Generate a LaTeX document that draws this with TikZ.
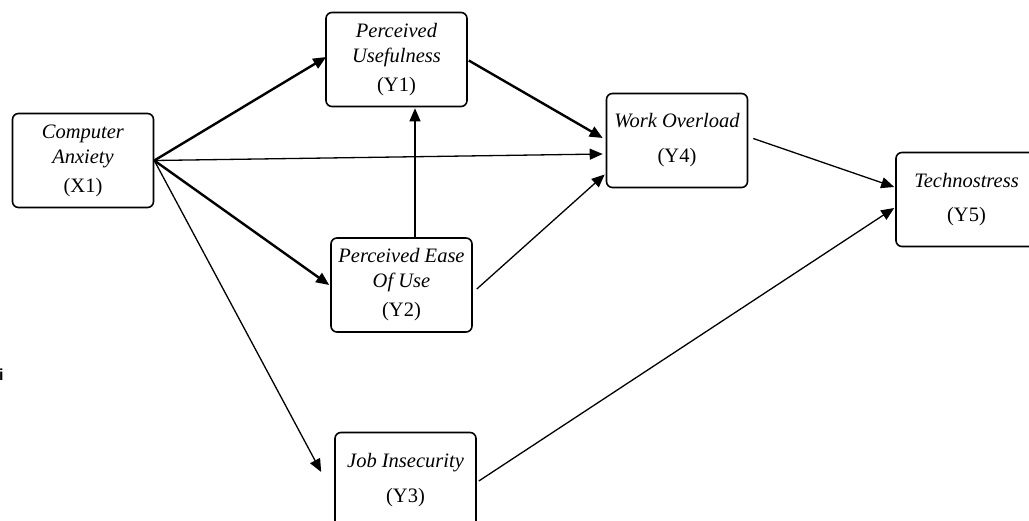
\documentclass[tikz,border=0pt]{standalone}
\usepackage{fontspec}
\setmainfont{Liberation Serif}
\newfontfamily\isans{Liberation Sans}
\usetikzlibrary{arrows.meta,calc}
\tikzset{
  varbox/.style={draw, line width=1.6pt, rounded corners=6pt, minimum width=141pt, minimum height=94pt, inner sep=0pt, align=center, font=\fontsize{20.5}{25}\selectfont},
  thinarr/.style={line width=1.3pt, -{Triangle[length=13pt,width=11pt]}},
  thickarr/.style={line width=2.4pt, -{Triangle[length=13pt,width=11pt]}},
}
\begin{document}
\begin{tikzpicture}[x=1pt,y=-1pt]
\clip (0,0) rectangle (1029,520);
\fill[white] (0,0) rectangle (1029,520);
\node[varbox] (X1) at (83,160.5) {\textit{Computer}\\\textit{Anxiety}\\[4pt](X1)};
\node[varbox] (Y1) at (396.5,59.5) {\textit{Perceived}\\\textit{Usefulness}\\[4pt](Y1)};
\node[varbox] (Y2) at (401.5,285) {\textit{Perceived Ease}\\\textit{Of Use}\\[4pt](Y2)};
\node[varbox] (Y4) at (677,140.5) {\textit{Work Overload}\\[10pt](Y4)};
\node[varbox] (Y5) at (966.5,199.5) {\textit{Technostress}\\[9pt](Y5)};
\node[varbox] (Y3) at (405.5,480) {\\[10pt]\textit{Job Insecurity}\\[10pt](Y3)\\};
\node[font=\isans\bfseries\fontsize{16}{16}\selectfont, anchor=base west, inner sep=0pt] (stray) at (-1,380) {i};
\draw[thickarr] (X1.east) -- ($(Y1.west)+(1,-2.5)$);
\draw[thinarr] (X1.east) -- ($(Y4.west)+(-3,13.5)$);
\draw[thickarr] (X1.east) -- ($(Y2.west)+(-1,0)$);
\draw[thinarr] (X1.east) -- ($(Y3.west)+(-13,-8)$);
\draw[thinarr] ($(Y2.north)+(13.5,0)$) -- ($(Y1.south)+(18.5,1)$);
\draw[thickarr] ($(Y1.east)+(1,1)$) -- ($(Y4.west)+(-3,-2.5)$);
\draw[thinarr] ($(Y2.east)+(4,4)$) -- ($(Y4.west)+(-1,34)$);
\draw[thinarr] ($(Y4.east)+(5,-2)$) -- ($(Y5.west)+(-1,-12.5)$);
\draw[thinarr] ($(Y3.east)+(2,1)$) -- ($(Y5.west)+(-1,8.5)$);
\end{tikzpicture}
\end{document}
